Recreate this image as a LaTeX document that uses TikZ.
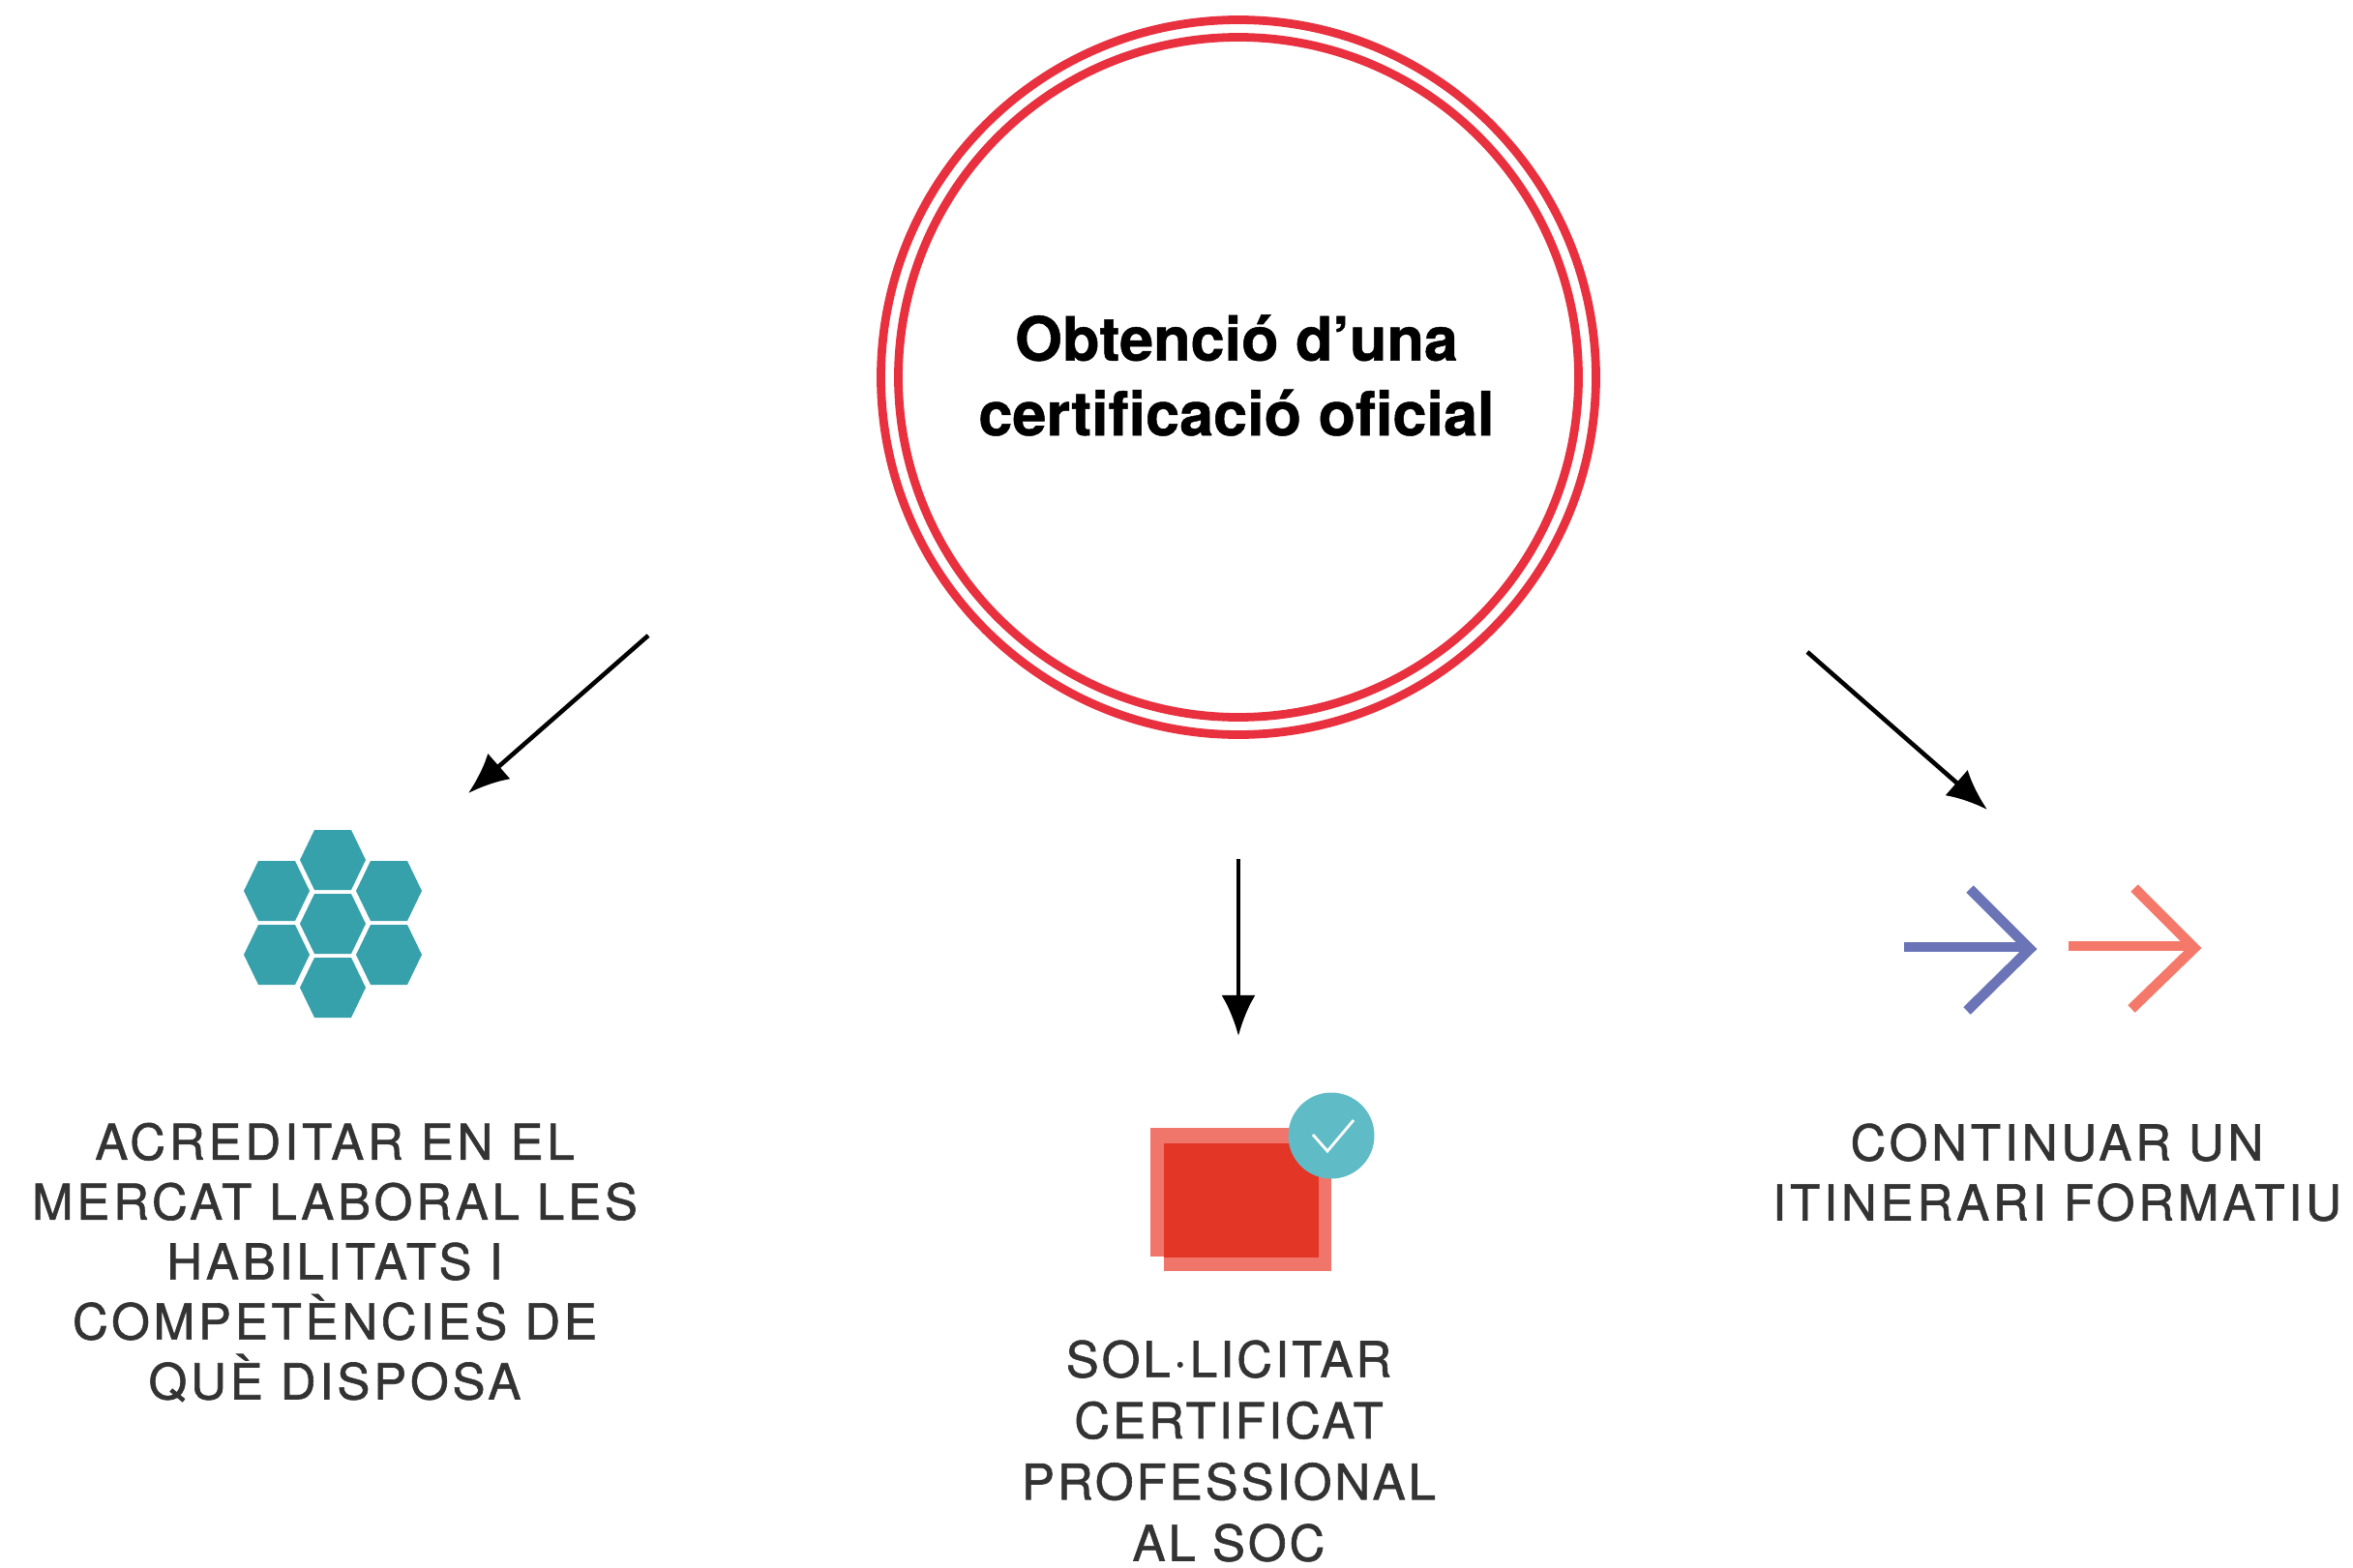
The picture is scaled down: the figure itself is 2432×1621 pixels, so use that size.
\documentclass[tikz,border=0pt]{standalone}
\usepackage{fontspec}
\setmainfont{TeX Gyre Heros}
\usepackage{tikz}
\usetikzlibrary{arrows.meta}
\definecolor{ringred}{HTML}{E8303F}
\definecolor{hexteal}{HTML}{37A1AB}
\definecolor{docred}{HTML}{E33627}
\definecolor{docpale}{HTML}{F0756A}
\definecolor{checkblue}{HTML}{5FBBC6}
\definecolor{arrowblue}{HTML}{6B74B6}
\definecolor{arrowsalmon}{HTML}{F5796A}
\definecolor{labelgrey}{HTML}{333333}
\newfontfamily\capsfont[LetterSpace=7.5,FakeBold=1.2]{TeX Gyre Heros}
\newfontfamily\solfont[LetterSpace=5.8,FakeBold=1.2]{TeX Gyre Heros}
\newfontfamily\goalfont[FakeBold=0.8]{TeX Gyre Heros Bold}
\tikzset{
  capslabel/.style={align=center, text=labelgrey, font=\capsfont\fontsize{14.5}{17.6}\selectfont, inner sep=0pt},
  flow/.style={-{Latex[length=12pt,width=10pt]}, line width=1.3pt},
}
% one hexagon of the honeycomb, centre given in pixels
\newcommand{\hexcell}[2]{\fill[hexteal] (#1-34,#2) -- (#1-19,#2-31) -- (#1+19,#2-31) -- (#1+34,#2) -- (#1+19,#2+31) -- (#1-19,#2+31) -- cycle;}
\begin{document}
\begin{tikzpicture}[x=0.01cm, y=-0.01cm]
  \useasboundingbox (0,0) rectangle (2432,1621);

  % Central circle
  \draw[ringred, line width=2.5pt] (1280,390) circle (369.5);
  \draw[ringred, line width=2.5pt] (1280,390) circle (351.5);
  \node[font=\goalfont\fontsize{17.9}{22}\selectfont, align=center, inner sep=0pt] (goal) at (1278,388) {Obtenció d’una\\certificació oficial};

  % Arrows
  \coordinate (leftstart) at (670,657);
  \coordinate (leftend) at (484,820);
  \coordinate (midstart) at (1280,888);
  \coordinate (midend) at (1280,1071);
  \coordinate (rightstart) at (1868,674);
  \coordinate (rightend) at (2054,837);
  \draw[flow] (leftstart) -- (leftend);
  \draw[flow] (midstart) -- (midend);
  \draw[flow] (rightstart) -- (rightend);

  % Honeycomb
  \foreach \cx/\cy in {344/889, 344/955, 344/1021, 286/921, 402/921, 286/987, 402/987} {
    \hexcell{\cx}{\cy}
  }

  % Document with check
  \fill[docpale] (1189,1166) rectangle (1357,1299);
  \fill[docpale] (1203,1181) rectangle (1376,1314);
  \fill[docred] (1203,1182) rectangle (1363,1300);
  \fill[checkblue] (1376,1174) circle (44.5);
  \draw[white, line width=0.8pt] (1357,1173) -- (1372,1190) -- (1399,1158);

  % Double arrow
  \draw[arrowblue, line width=3pt] (1968,979) -- (2098,979);
  \draw[arrowblue, line width=3pt] (2036,919) -- (2098,981) -- (2033,1045);
  \draw[arrowsalmon, line width=3pt] (2138,978) -- (2268,978);
  \draw[arrowsalmon, line width=3pt] (2206,918) -- (2268,980) -- (2203,1043);

  % Labels
  \node[capslabel] (acreditar) at (346,1305) {ACREDITAR EN EL\\MERCAT LABORAL LES\\HABILITATS I\\COMPETÈNCIES DE\\QUÈ DISPOSA};
  \node[capslabel, font=\solfont\fontsize{14.5}{18}\selectfont] (solicitar) at (1270,1500) {SOL·LICITAR\\CERTIFICAT\\PROFESSIONAL\\AL SOC};
  \node[capslabel] (continuar) at (2126,1212) {CONTINUAR UN\\ITINERARI FORMATIU};
\end{tikzpicture}
\end{document}
